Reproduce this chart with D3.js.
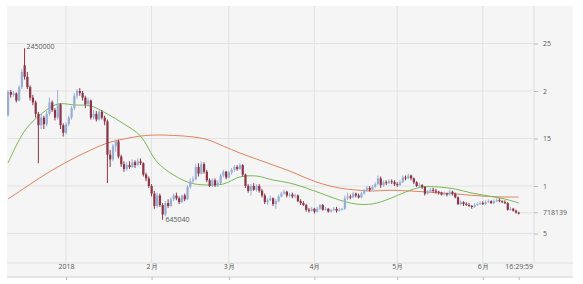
<!DOCTYPE html>
<html>
<head>
<meta charset="utf-8">
<script src="https://cdn.jsdelivr.net/npm/d3@7"></script>
<style>
  body { margin: 0; background: #fff; }
  svg text { font-family: "Open Sans", "DejaVu Sans", sans-serif; font-size: 7px; fill: #555; }
</style>
</head>
<body>
<div id="chart"></div>
<script>
// daily candles, prices in thousand KRW, first candle 2017-12-11
const firstDay = new Date(Date.UTC(2017, 11, 11));

const open = [1747,1990,1960,1975,1900,2040,2270,2150,2040,1930,
  1880,1760,1640,1720,1650,1760,1880,1800,1720,1860,
  1640,1560,1650,1720,1820,1950,2000,1980,1930,1860,
  1900,1720,1760,1700,1780,1720,1680,1330,1280,1420,
  1470,1310,1230,1180,1220,1200,1250,1220,1260,1240,
  1120,1080,1000,920,790,900,800,700,820,790,
  860,900,870,830,900,860,990,1050,1070,1200,
  1130,1230,1150,1060,1000,1060,1010,1030,1110,1150,
  1090,1140,1170,1200,1180,1220,1120,1000,950,1000,
  960,1000,950,900,830,850,870,810,840,890,
  920,940,900,910,890,900,840,820,800,750,
  740,760,730,760,800,750,760,730,745,760,
  740,750,760,870,890,880,920,900,880,920,
  950,980,960,990,1020,1080,1010,1040,1030,1050,
  1040,1020,1010,1040,1090,1080,1110,1080,1040,1000,
  1010,990,920,940,960,950,940,930,910,920,
  910,940,920,880,810,830,810,800,790,780,
  800,810,820,810,830,840,820,840,850,840,
  830,820,750,760,740,720];

const close = [1990,1960,1975,1900,2040,2200,2150,2040,1930,1880,
  1760,1640,1720,1650,1760,1880,1800,1720,1860,1640,
  1560,1650,1720,1820,1950,2000,1980,1930,1860,1900,
  1720,1760,1700,1780,1720,1680,1330,1280,1420,1470,
  1310,1230,1180,1220,1200,1250,1220,1260,1240,1120,
  1080,1000,920,790,900,800,700,820,790,860,
  900,870,830,900,860,990,1050,1070,1200,1130,
  1230,1150,1060,1000,1060,1010,1030,1110,1150,1090,
  1140,1170,1200,1180,1220,1120,1000,950,1000,960,
  1000,950,900,830,850,870,810,840,890,920,
  940,900,910,890,900,840,820,800,750,740,
  760,730,760,800,750,760,730,745,760,740,
  750,760,870,890,880,920,900,880,920,950,
  980,960,990,1020,1080,1010,1040,1030,1050,1040,
  1020,1010,1040,1090,1080,1110,1080,1040,1000,1010,
  990,920,940,960,950,940,930,910,920,910,
  940,920,880,810,830,810,800,790,780,800,
  810,820,810,830,840,820,840,850,840,830,
  820,750,760,740,720,718.139];

const high = [2011,2010,2000,1985,2060,2230,2450,2200,2060,1960,
  1900,1780,1760,1740,1790,1930,1900,1820,2010,1870,
  1660,1670,1740,1840,1980,2020,2030,2000,1950,1930,
  1910,1800,1790,1810,1800,1740,1700,1380,1440,1490,
  1490,1330,1260,1250,1260,1280,1270,1290,1290,1250,
  1140,1100,1020,950,930,920,820,840,860,880,
  920,930,890,910,920,1010,1080,1100,1230,1240,
  1260,1250,1170,1080,1080,1080,1060,1130,1170,1160,
  1160,1190,1220,1220,1240,1230,1130,1020,1020,1030,
  1020,1020,970,920,870,900,880,860,910,940,
  960,950,930,930,920,910,860,840,810,770,
  780,770,780,810,810,780,770,760,780,780,
  770,770,900,930,910,940,930,920,940,970,
  1000,1000,1010,1040,1110,1100,1060,1060,1070,1070,
  1060,1040,1060,1110,1110,1130,1120,1090,1050,1030,
  1020,1000,960,980,980,970,950,940,940,930,
  960,950,930,890,850,840,830,820,800,820,
  830,840,840,850,860,850,860,870,870,850,
  850,830,780,770,750,730];

const low = [1726,1930,1940,1880,1890,2020,2120,2020,1900,1850,
  1720,1240,1600,1600,1630,1740,1780,1690,1700,1600,
  1520,1540,1630,1700,1800,1920,1950,1900,1820,1840,
  1700,1700,1680,1690,1700,1640,1030,1200,1260,1360,
  1290,1200,1150,1160,1180,1190,1190,1210,1220,1100,
  1050,980,890,760,770,780,645.04,680,770,780,
  840,850,810,820,840,850,970,1030,1060,1100,
  1120,1130,1040,990,990,990,990,1020,1090,1070,
  1080,1120,1150,1160,1170,1100,980,930,900,950,
  940,930,880,810,800,840,790,760,830,880,
  910,880,880,870,870,830,800,790,730,720,
  730,710,720,750,740,740,720,720,740,720,
  730,740,750,850,860,870,880,870,870,910,
  940,940,950,980,1010,980,990,1010,1020,1020,
  1000,990,1000,1030,1060,1070,1060,1020,990,980,
  970,900,910,930,930,920,910,900,900,890,
  900,900,870,800,800,790,790,780,760,770,
  790,800,800,800,820,810,810,830,830,820,
  810,740,740,730,710,700];

// moving averages at these candle indices
const maDays = [0,6,12,18,24,30,36,42,48,54,60,66,72,78,84,90,96,102,108,114,120,126,132,138,144,150,156,162,168,174,180,185];
const maShort = [1242,1579,1758,1863,1853,1842,1758,1653,1526,1253,1116,1032,1011,1021,1095,1105,1063,1032,979,916,853,811,811,863,937,989,989,968,926,895,863,821];
const maLong = [863,979,1095,1200,1295,1379,1453,1495,1526,1537,1532,1520,1490,1420,1347,1284,1221,1158,1084,1021,979,958,947,955,950,940,928,916,902,890,884,884];

const monthTicks = ["2018-01-01","2018-02-01","2018-03-01","2018-04-01","2018-05-01","2018-06-01"];
const monthLabels = ["2018","2月","3月","4月","5月","6月"];
const lastLabel = "16:29:59";
const priceTicks = [500, 1000, 1500, 2000, 2500];
const priceLabels = ["5", "1", "15", "2", "25"];

const W = 583, H = 284;
const days = open.map((d, i) => d3.utcDay.offset(firstDay, i));
const lastDay = days[days.length - 1];

const svg = d3.select("#chart").append("svg")
  .attr("width", W).attr("height", H);

let x = d3.scaleUtc().domain([firstDay, lastDay]).range([8, 518.7]);
let y = d3.scaleLinear().domain([0, 2500]).range([281, 43.5]);

const plotLeft = 7, plotTop = 6, axisX = 534, gridBottom = 263, axisY = 277, bgRight = 573;

// background
svg.append("rect")
  .attr("x", plotLeft).attr("y", plotTop)
  .attr("width", bgRight - plotLeft).attr("height", axisY - plotTop)
  .attr("fill", "#f5f5f5");

// grid
svg.append("g").selectAll("line").data(priceTicks).join("line")
  .attr("x1", plotLeft).attr("x2", axisX)
  .attr("y1", d => y(d)).attr("y2", d => y(d))
  .attr("stroke", "#e2e2e2");

svg.append("g").selectAll("line").data(monthTicks).join("line")
  .attr("x1", d => x(new Date(d))).attr("x2", d => x(new Date(d)))
  .attr("y1", plotTop).attr("y2", gridBottom)
  .attr("stroke", "#e2e2e2");

svg.append("line")
  .attr("x1", plotLeft).attr("x2", bgRight)
  .attr("y1", gridBottom).attr("y2", gridBottom)
  .attr("stroke", "#e2e2e2");

svg.append("line")
  .attr("x1", axisX).attr("x2", axisX)
  .attr("y1", plotTop).attr("y2", gridBottom)
  .attr("stroke", "#dedede");

// right price axis
let yAxis = svg.append("g")
  .attr("transform", "translate(" + axisX + ",0)")
  .call(d3.axisRight(y).tickValues(priceTicks).tickSize(4).tickPadding(5)
    .tickFormat((d, i) => priceLabels[i]));
yAxis.select(".domain").remove();
yAxis.selectAll(".tick line").attr("stroke", "#bbb");
yAxis.selectAll("text").attr("fill", "#555").style("font-size", "7px");

// bottom axis: labels sit above the line
let tickDates = monthTicks.map(d => new Date(d)).concat([lastDay]);
let tickText = monthLabels.concat([lastLabel]);
let xAxis = svg.append("g")
  .attr("transform", "translate(0," + axisY + ")")
  .call(d3.axisBottom(x).tickValues(tickDates).tickSize(3).tickSizeOuter(0)
    .tickFormat((d, i) => tickText[i]));
xAxis.select(".domain").attr("d", "M" + plotLeft + ",0H" + bgRight).attr("stroke", "#d0d0d0");
xAxis.selectAll(".tick line").attr("stroke", "#bbb");
xAxis.selectAll("text").attr("y", -10).attr("dy", "0.32em")
  .attr("fill", "#555").style("font-size", "7px");

// moving averages
const maLine = vals => d3.line()
  .x((d, i) => x(days[maDays[i]]))
  .y(d => y(d))
  .curve(d3.curveCatmullRom.alpha(0.5))(vals);

svg.append("path").attr("d", maLine(maLong))
  .attr("fill", "none").attr("stroke", "#e3825e").attr("stroke-width", 1);
svg.append("path").attr("d", maLine(maShort))
  .attr("fill", "none").attr("stroke", "#79b853").attr("stroke-width", 1);

// candles
const upColor = "#98afd5", downColor = "#8d3446";
let candles = svg.append("g").selectAll("g").data(days).join("g")
  .attr("transform", d => "translate(" + x(d) + ",0)");

candles.append("line")
  .attr("y1", (d, i) => y(high[i])).attr("y2", (d, i) => y(low[i]))
  .attr("stroke", (d, i) => close[i] >= open[i] ? upColor : downColor)
  .attr("stroke-width", 1);

candles.append("rect")
  .attr("x", -1).attr("width", 2.2)
  .attr("y", (d, i) => y(Math.max(open[i], close[i])))
  .attr("height", (d, i) => Math.max(1, Math.abs(y(open[i]) - y(close[i]))))
  .attr("fill", (d, i) => close[i] >= open[i] ? upColor : downColor);

// high / low labels
const fmt = d3.format("d");
let hiIdx = d3.maxIndex(high), loIdx = d3.minIndex(low);
svg.append("text")
  .attr("x", x(days[hiIdx]) + 2).attr("y", y(high[hiIdx]) + 0.5)
  .text(fmt(high[hiIdx] * 1000));
svg.append("text")
  .attr("x", x(days[loIdx]) + 3).attr("y", y(low[loIdx]) + 2)
  .text(fmt(low[loIdx] * 1000));

// current price marker
let last = close[close.length - 1];
svg.append("line")
  .attr("x1", x(lastDay) + 2).attr("x2", axisX)
  .attr("y1", y(last)).attr("y2", y(last))
  .attr("stroke", "#ccc").attr("stroke-dasharray", "1,1");
svg.append("line")
  .attr("x1", axisX).attr("x2", axisX + 4)
  .attr("y1", y(last)).attr("y2", y(last))
  .attr("stroke", "#bbb");
svg.append("text")
  .attr("x", axisX + 9).attr("y", y(last)).attr("dy", "0.32em")
  .text(fmt(Math.round(last * 1000)));
</script>
</body>
</html>
